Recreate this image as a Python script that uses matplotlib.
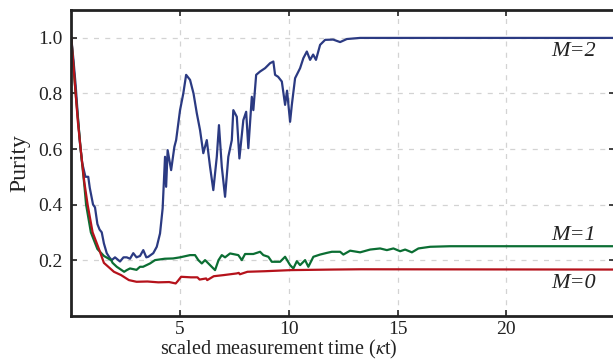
import numpy as np
import matplotlib
matplotlib.use('Agg')
import matplotlib.pyplot as plt

# purity traces (time in units of kappa*t)
t_m2 = [0, 0.1, 0.2, 0.3, 0.4, 0.5, 0.65, 0.78, 0.85, 1.0, 1.09, 1.2, 1.3,
        1.4, 1.5, 1.63, 1.75, 1.86, 2.01, 2.24, 2.4, 2.55, 2.7, 2.85, 3.0,
        3.16, 3.31, 3.45, 3.54, 3.77, 3.93, 4.08, 4.2, 4.31, 4.36, 4.43,
        4.59, 4.74, 4.82, 5.0, 5.15, 5.28, 5.46, 5.62, 5.77, 5.92, 6.07,
        6.23, 6.38, 6.53, 6.69, 6.79, 6.92, 7.07, 7.22, 7.38, 7.45, 7.61,
        7.73, 7.91, 8.04, 8.14, 8.30, 8.37, 8.50, 8.68, 8.91, 9.14, 9.29,
        9.37, 9.51, 9.68, 9.83, 9.92, 10.06, 10.14, 10.29, 10.52, 10.67,
        10.83, 10.98, 11.12, 11.25, 11.44, 11.67, 12.04, 12.36, 12.67,
        13.28, 25.0]
p_m2 = [1.0, 0.92, 0.83, 0.72, 0.62, 0.55, 0.50, 0.50, 0.46, 0.40, 0.39,
        0.33, 0.31, 0.30, 0.26, 0.225, 0.21, 0.20, 0.21, 0.195, 0.21, 0.21,
        0.205, 0.225, 0.21, 0.215, 0.236, 0.21, 0.212, 0.225, 0.248, 0.296,
        0.386, 0.572, 0.464, 0.596, 0.524, 0.608, 0.632, 0.74, 0.80, 0.867,
        0.849, 0.80, 0.729, 0.668, 0.585, 0.632, 0.536, 0.452, 0.572, 0.686,
        0.536, 0.428, 0.572, 0.632, 0.74, 0.716, 0.566, 0.704, 0.734, 0.603,
        0.788, 0.74, 0.867, 0.879, 0.891, 0.909, 0.915, 0.867, 0.86, 0.843,
        0.759, 0.81, 0.698, 0.759, 0.855, 0.891, 0.927, 0.951, 0.921, 0.94,
        0.921, 0.975, 0.993, 0.994, 0.985, 0.996, 1.0, 1.0]

t_m1 = [0, 0.2, 0.43, 0.6, 0.68, 0.9, 1.2, 1.5, 1.83, 1.9, 2.09, 2.43,
        2.55, 2.7, 3.0, 3.16, 3.3, 3.62, 3.85, 4.3, 4.68, 5.0, 5.46, 5.69,
        5.84, 6.0, 6.15, 6.38, 6.61, 6.77, 6.92, 7.07, 7.30, 7.68, 7.84,
        7.99, 8.37, 8.68, 8.83, 9.06, 9.22, 9.60, 9.83, 10.06, 10.21, 10.37,
        10.52, 10.75, 10.90, 11.13, 11.44, 11.75, 11.98, 12.36, 12.51,
        12.82, 13.28, 13.74, 14.2, 14.51, 14.81, 15.12, 15.35, 15.66, 15.96,
        16.5, 17.42, 19.72, 25.0]
p_m1 = [1.0, 0.8, 0.6, 0.47, 0.40, 0.30, 0.24, 0.215, 0.20, 0.19, 0.176,
        0.158, 0.164, 0.17, 0.165, 0.176, 0.176, 0.188, 0.20, 0.205, 0.206,
        0.21, 0.218, 0.218, 0.20, 0.188, 0.20, 0.182, 0.164, 0.20, 0.218,
        0.21, 0.224, 0.218, 0.20, 0.222, 0.222, 0.23, 0.218, 0.212, 0.194,
        0.194, 0.212, 0.182, 0.17, 0.196, 0.182, 0.20, 0.176, 0.212, 0.22,
        0.226, 0.23, 0.23, 0.22, 0.234, 0.228, 0.238, 0.242, 0.236, 0.242,
        0.232, 0.238, 0.228, 0.242, 0.248, 0.25, 0.25, 0.25]

t_m0 = [0, 0.1, 0.2, 0.3, 0.43, 0.6, 0.75, 0.98, 1.29, 1.5, 1.96, 2.29,
        2.65, 3.0, 3.5, 4.0, 4.5, 4.8, 4.9, 5.05, 5.5, 5.8, 5.9, 6.2, 6.25,
        6.55, 7.0, 7.6, 7.7, 7.75, 8.1, 8.9, 10.1, 12.0, 13.3, 25.0]
p_m0 = [1.0, 0.9, 0.8, 0.7, 0.6, 0.48, 0.40, 0.30, 0.236, 0.19, 0.158,
        0.146, 0.128, 0.122, 0.123, 0.12, 0.121, 0.116, 0.125, 0.14, 0.138,
        0.138, 0.13, 0.134, 0.128, 0.142, 0.146, 0.152, 0.154, 0.149, 0.158,
        0.16, 0.164, 0.166, 0.167, 0.166]

xticks = [5, 10, 15, 20]
yticks = [0.2, 0.4, 0.6, 0.8, 1.0]

plt.rcParams['font.family'] = ['Liberation Serif', 'DejaVu Serif']
plt.rcParams['mathtext.fontset'] = 'stix'

fig = plt.figure(figsize=(6.13, 3.62), dpi=100)
ax = fig.add_axes([0.1163, 0.128, 0.887, 0.844])

ax.plot(t_m2, p_m2, color='#2b3a82', lw=1.6)
ax.plot(t_m1, p_m1, color='#0b6e33', lw=1.6)
ax.plot(t_m0, p_m0, color='#b5121b', lw=1.6)

ax.set_xlim(0, 25)
ax.set_ylim(0, 1.1)
ax.set_xticks(xticks)
ax.set_yticks(yticks)
ax.set_yticklabels([f'{v:.1f}' for v in yticks])
ax.grid(True, color='#d3d3d3', linestyle=(0, (4, 5)), lw=0.9)
ax.tick_params(direction='in', length=4, width=1.2, labelsize=14,
               top=True, right=True, color='#222222', labelcolor='#222222', pad=6)
ax.tick_params(axis='x', pad=4)
for s in ax.spines.values():
    s.set_linewidth(2.0)
    s.set_color('#222222')

ax.set_ylabel('Purity', fontsize=17, color='#222222', labelpad=6)
ax.set_xlabel(r'scaled measurement time ($\kappa$t)', fontsize=14.5,
              color='#222222', labelpad=-0.5, x=0.382)

for lbl, yy in [('M=2', 0.95), ('M=1', 0.29), ('M=0', 0.117)]:
    ax.text(24.1, yy, lbl, fontsize=16, style='italic', color='#222222',
            ha='right', va='center')

fig.savefig('out.png', dpi=100)
